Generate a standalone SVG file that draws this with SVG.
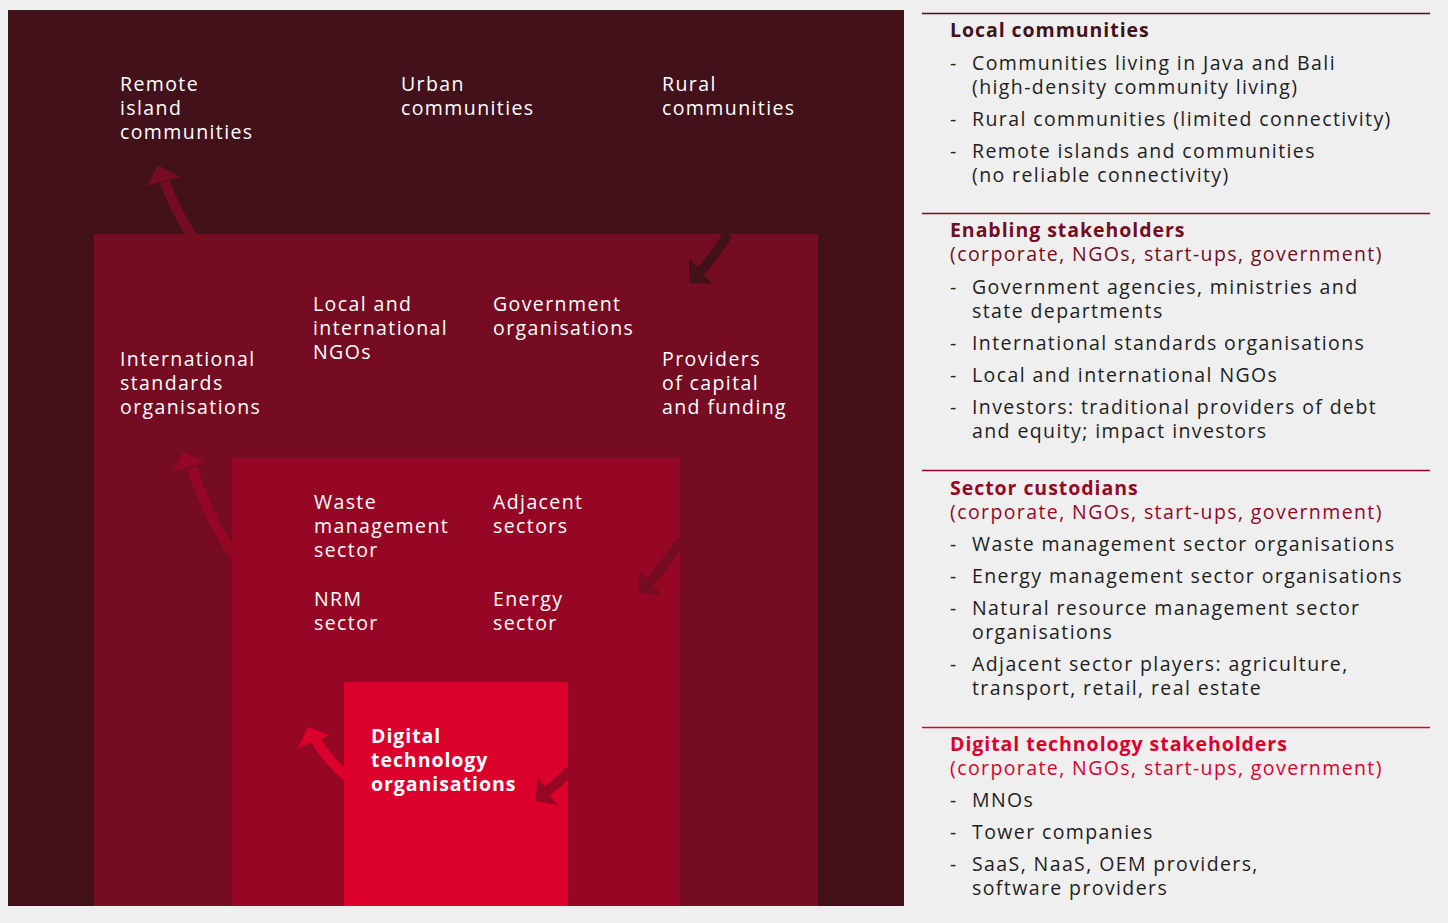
<svg xmlns="http://www.w3.org/2000/svg" width="1448" height="923" viewBox="0 0 1448 923">
  <defs>
    <style>
      .t { font-family: "Open Sans", "DejaVu Sans", sans-serif; font-size: 19.5px; letter-spacing: 1.4px; }
      .w { fill: #ffffff; }
      .b { font-weight: bold; letter-spacing: 0.95px; }
      .k { fill: #1e1e1e; }
      .c1 { fill: #43111a; }
      .c2 { fill: #750c22; }
      .c3 { fill: #960725; }
      .c4 { fill: #dc002c; }
      .shaft { fill: none; stroke-width: 10; stroke-linecap: butt; }
    </style>
  </defs>

  <rect x="0" y="0" width="1448" height="923" fill="#efefef"/>

  <!-- nested stakeholder layers -->
  <g id="layer-local-communities">
    <rect x="8" y="10" width="896" height="896" class="c1"/>
    <text class="t w"><tspan x="120" y="91">Remote</tspan><tspan x="120" y="115">island</tspan><tspan x="120" y="139">communities</tspan></text>
    <text class="t w"><tspan x="401" y="91">Urban</tspan><tspan x="401" y="115">communities</tspan></text>
    <text class="t w"><tspan x="662" y="91">Rural</tspan><tspan x="662" y="115">communities</tspan></text>
  </g>

  <g id="layer-enabling">
    <rect x="94" y="234" width="724" height="672" class="c2"/>
    <text class="t w"><tspan x="313" y="311">Local and</tspan><tspan x="313" y="335">international</tspan><tspan x="313" y="359">NGOs</tspan></text>
    <text class="t w"><tspan x="493" y="311">Government</tspan><tspan x="493" y="335">organisations</tspan></text>
    <text class="t w"><tspan x="120" y="366">International</tspan><tspan x="120" y="390">standards</tspan><tspan x="120" y="414">organisations</tspan></text>
    <text class="t w"><tspan x="662" y="366">Providers</tspan><tspan x="662" y="390">of capital</tspan><tspan x="662" y="414">and funding</tspan></text>
  </g>

  <g id="layer-sector">
    <rect x="232" y="458" width="448" height="448" class="c3"/>
    <text class="t w"><tspan x="314" y="509">Waste</tspan><tspan x="314" y="533">management</tspan><tspan x="314" y="557">sector</tspan></text>
    <text class="t w"><tspan x="493" y="509">Adjacent</tspan><tspan x="493" y="533">sectors</tspan></text>
    <text class="t w"><tspan x="314" y="606">NRM</tspan><tspan x="314" y="630">sector</tspan></text>
    <text class="t w"><tspan x="493" y="606">Energy</tspan><tspan x="493" y="630">sector</tspan></text>
  </g>

  <g id="layer-digital">
    <rect x="344" y="682" width="224" height="224" class="c4"/>
    <text class="t w b"><tspan x="371" y="743">Digital</tspan><tspan x="371" y="767">technology</tspan><tspan x="371" y="791">organisations</tspan></text>
  </g>

  <!-- curved flow arrows between layers -->
  <g id="connectors">
    <path class="shaft" d="M192 236 Q176 212 165 182" stroke="#750c22"/>
    <polygon points="158,165 147,186 180,177" class="c2"/>

    <path class="shaft" d="M728 234 Q716 254 700 272" stroke="#43111a"/>
    <polygon points="689,283 689,258 712,284" class="c1"/>

    <path class="shaft" d="M234 556 Q207 515 192 468" stroke="#960725"/>
    <polygon points="183,452 173,472 205,462" class="c3"/>

    <path class="shaft" d="M682 540 Q668 560 650 582" stroke="#750c22"/>
    <polygon points="639,593 639,571 662,595" class="c2"/>

    <path class="shaft" d="M346 776 Q325 757 316 740" stroke="#dc002c"/>
    <polygon points="308,727 298,748 330,735" class="c4"/>

    <path class="shaft" d="M570 770 Q558 784 545 792" stroke="#960725"/>
    <polygon points="535,801 538,777 557,805" class="c3"/>
  </g>

  <!-- legend -->
  <g id="legend-local">
    <line x1="922" y1="13.5" x2="1430" y2="13.5" stroke="#43111a" stroke-width="1.5"/>
    <text class="t b c1" x="950" y="37">Local communities</text>
    <text class="t k"><tspan x="950" y="70">-</tspan><tspan x="972" y="70">Communities living in Java and Bali</tspan><tspan x="972" y="94">(high-density community living)</tspan></text>
    <text class="t k"><tspan x="950" y="126">-</tspan><tspan x="972" y="126">Rural communities (limited connectivity)</tspan></text>
    <text class="t k"><tspan x="950" y="158">-</tspan><tspan x="972" y="158">Remote islands and communities</tspan><tspan x="972" y="182">(no reliable connectivity)</tspan></text>
  </g>

  <g id="legend-enabling">
    <line x1="922" y1="213.5" x2="1430" y2="213.5" stroke="#750c22" stroke-width="1.5"/>
    <text class="t b c2" x="950" y="237">Enabling stakeholders</text>
    <text class="t c2" x="950" y="261">(corporate, NGOs, start-ups, government)</text>
    <text class="t k"><tspan x="950" y="294">-</tspan><tspan x="972" y="294">Government agencies, ministries and</tspan><tspan x="972" y="318">state departments</tspan></text>
    <text class="t k"><tspan x="950" y="350">-</tspan><tspan x="972" y="350">International standards organisations</tspan></text>
    <text class="t k"><tspan x="950" y="382">-</tspan><tspan x="972" y="382">Local and international NGOs</tspan></text>
    <text class="t k"><tspan x="950" y="414">-</tspan><tspan x="972" y="414">Investors: traditional providers of debt</tspan><tspan x="972" y="438">and equity; impact investors</tspan></text>
  </g>

  <g id="legend-sector">
    <line x1="922" y1="470.5" x2="1430" y2="470.5" stroke="#960725" stroke-width="1.5"/>
    <text class="t b c3" x="950" y="495">Sector custodians</text>
    <text class="t c3" x="950" y="519">(corporate, NGOs, start-ups, government)</text>
    <text class="t k"><tspan x="950" y="551">-</tspan><tspan x="972" y="551">Waste management sector organisations</tspan></text>
    <text class="t k"><tspan x="950" y="583">-</tspan><tspan x="972" y="583">Energy management sector organisations</tspan></text>
    <text class="t k"><tspan x="950" y="615">-</tspan><tspan x="972" y="615">Natural resource management sector</tspan><tspan x="972" y="639">organisations</tspan></text>
    <text class="t k"><tspan x="950" y="671">-</tspan><tspan x="972" y="671">Adjacent sector players: agriculture,</tspan><tspan x="972" y="695">transport, retail, real estate</tspan></text>
  </g>

  <g id="legend-digital">
    <line x1="922" y1="727.5" x2="1430" y2="727.5" stroke="#dc002c" stroke-width="1.5"/>
    <text class="t b c4" x="950" y="751">Digital technology stakeholders</text>
    <text class="t c4" x="950" y="775">(corporate, NGOs, start-ups, government)</text>
    <text class="t k"><tspan x="950" y="807">-</tspan><tspan x="972" y="807">MNOs</tspan></text>
    <text class="t k"><tspan x="950" y="839">-</tspan><tspan x="972" y="839">Tower companies</tspan></text>
    <text class="t k"><tspan x="950" y="871">-</tspan><tspan x="972" y="871">SaaS, NaaS, OEM providers,</tspan><tspan x="972" y="895">software providers</tspan></text>
  </g>
</svg>
